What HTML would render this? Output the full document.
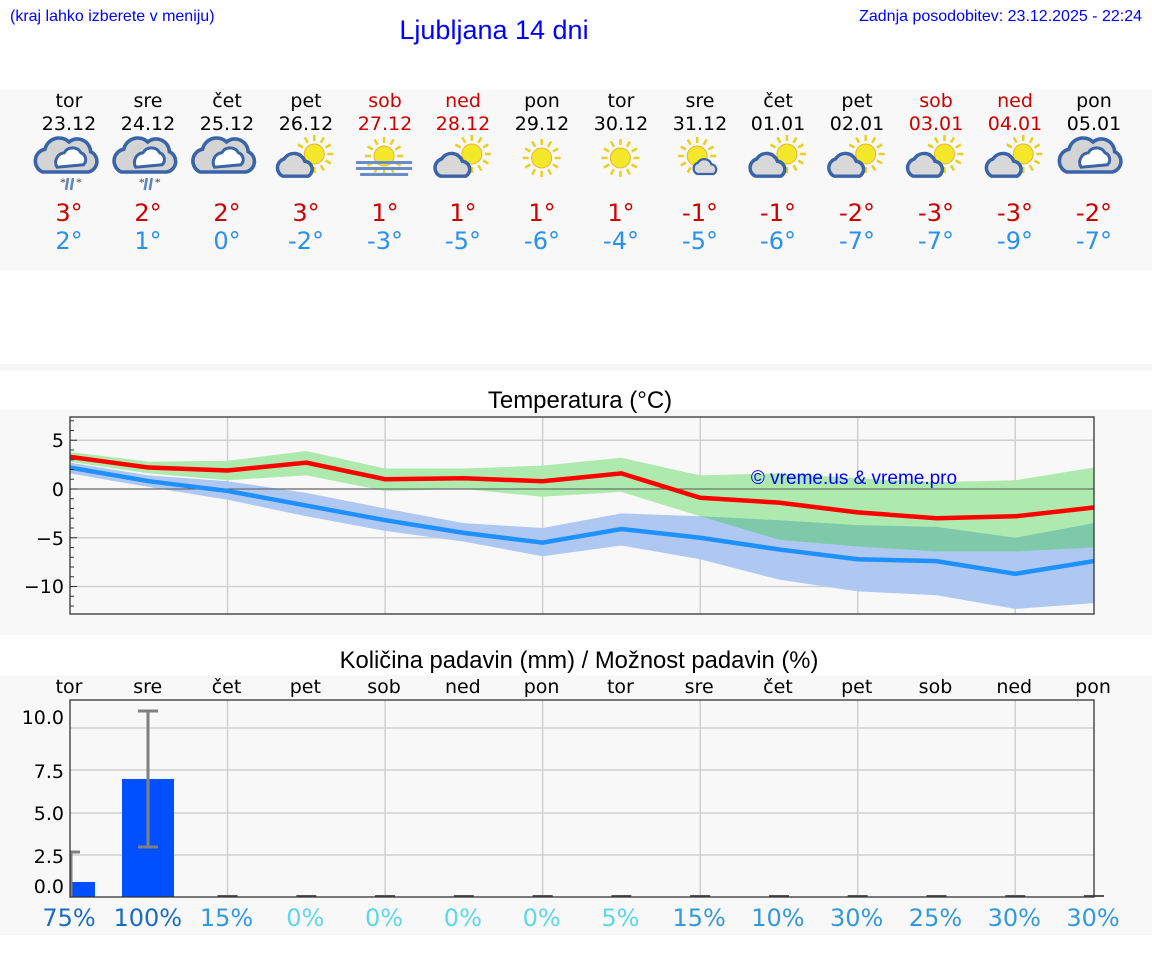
<!DOCTYPE html>
<html><head><meta charset="utf-8"><style>
html,body{margin:0;padding:0;background:#fff;width:1152px;height:975px;overflow:hidden}
svg{display:block}
.dj{font-family:"DejaVu Sans",sans-serif}
.lb{font-family:"Liberation Sans",sans-serif}
</style></head><body>
<svg id="s" width="1152" height="975" xmlns="http://www.w3.org/2000/svg">
<rect x="0" y="90" width="1152" height="180" fill="#f8f8f8"/>
<rect x="0" y="364" width="1152" height="6" fill="#f6f6f6"/>
<rect x="0" y="410" width="1152" height="225" fill="#f8f8f8"/>
<rect x="0" y="675" width="1152" height="260" fill="#f8f8f8"/>
<text class="lb" x="10" y="21" font-size="16" fill="#0000ff">(kraj lahko izberete v meniju)</text>
<text class="lb" x="494" y="39" font-size="27" fill="#0000ff" text-anchor="middle">Ljubljana 14 dni</text>
<text class="lb" x="1142" y="21" font-size="16" fill="#0000ff" text-anchor="end">Zadnja posodobitev: 23.12.2025 - 22:24</text>
<g class="dj" font-size="19" text-anchor="middle">
<text x="69" y="107">tor</text><text x="148" y="107">sre</text><text x="227" y="107">čet</text><text x="306" y="107">pet</text><text x="385" y="107" fill="#cc0000">sob</text><text x="463" y="107" fill="#cc0000">ned</text><text x="542" y="107">pon</text><text x="621" y="107">tor</text><text x="700" y="107">sre</text><text x="778" y="107">čet</text><text x="857" y="107">pet</text><text x="936" y="107" fill="#cc0000">sob</text><text x="1015" y="107" fill="#cc0000">ned</text><text x="1094" y="107">pon</text>
<text x="69" y="130">23.12</text><text x="148" y="130">24.12</text><text x="227" y="130">25.12</text><text x="306" y="130">26.12</text><text x="385" y="130" fill="#cc0000">27.12</text><text x="463" y="130" fill="#cc0000">28.12</text><text x="542" y="130">29.12</text><text x="621" y="130">30.12</text><text x="700" y="130">31.12</text><text x="778" y="130">01.01</text><text x="857" y="130">02.01</text><text x="936" y="130" fill="#cc0000">03.01</text><text x="1015" y="130" fill="#cc0000">04.01</text><text x="1094" y="130">05.01</text>
</g>
<g class="dj" font-size="24" text-anchor="middle" fill="#cc0000">
<text x="69" y="221">3°</text><text x="148" y="221">2°</text><text x="227" y="221">2°</text><text x="306" y="221">3°</text><text x="385" y="221">1°</text><text x="463" y="221">1°</text><text x="542" y="221">1°</text><text x="621" y="221">1°</text><text x="700" y="221">-1°</text><text x="778" y="221">-1°</text><text x="857" y="221">-2°</text><text x="936" y="221">-3°</text><text x="1015" y="221">-3°</text><text x="1094" y="221">-2°</text>
</g>
<g class="dj" font-size="24" text-anchor="middle" fill="#2a90f0">
<text x="69" y="249">2°</text><text x="148" y="249">1°</text><text x="227" y="249">0°</text><text x="306" y="249">-2°</text><text x="385" y="249">-3°</text><text x="463" y="249">-5°</text><text x="542" y="249">-6°</text><text x="621" y="249">-4°</text><text x="700" y="249">-5°</text><text x="778" y="249">-6°</text><text x="857" y="249">-7°</text><text x="936" y="249">-7°</text><text x="1015" y="249">-9°</text><text x="1094" y="249">-7°</text>
</g>
<g id="icons"></g>
<text class="lb" x="580" y="408" font-size="24" text-anchor="middle">Temperatura (°C)</text>
<g id="temp"></g>
<text class="lb" x="579" y="668" font-size="23.8" text-anchor="middle">Količina padavin (mm) / Možnost padavin (%)</text>
<g id="prec"></g>
</svg>
<script>
function X(i){return 70+78.77*i}
var h='';
function cloud(cx,cy,s,fill){return '<g transform="translate('+cx+','+cy+') scale('+s+')"><path d="M-22,10 a10,10 0 0 1 2,-19 a12,12 0 0 1 20,-6 a11,11 0 0 1 18,8 a9,9 0 0 1 -2,17 z" fill="'+fill+'" stroke="#3a64a8" stroke-width="3"/><path d="M-10,6 a8,8 0 0 1 6,-12 a8,8 0 0 1 14,0 a6,6 0 0 1 2,10 z" fill="#fff" stroke="#3a64a8" stroke-width="2.5"/></g>'}
function sun(cx,cy,r){var s='<g stroke="#e8d020" stroke-width="2.5">';for(var a=0;a<360;a+=30){var t=a*Math.PI/180;s+='<line x1="'+(cx+Math.cos(t)*(r+3))+'" y1="'+(cy+Math.sin(t)*(r+3))+'" x2="'+(cx+Math.cos(t)*(r+9))+'" y2="'+(cy+Math.sin(t)*(r+9))+'"/>'}return s+'</g><circle cx="'+cx+'" cy="'+cy+'" r="'+r+'" fill="#f3e82a" stroke="#f0b030" stroke-width="1"/>'}
function scloud(cx,cy,s){return '<g transform="translate('+cx+','+cy+') scale('+s+')"><path d="M-16,8 a8,8 0 0 1 1,-15 a10,10 0 0 1 18,2 a7,7 0 0 1 3,13 z" fill="#d8d8d8" stroke="#3a64a8" stroke-width="3"/></g>'}
var types=[0,0,1,2,3,2,4,4,5,2,2,2,2,1];
for(var i=0;i<14;i++){var c=X(i)-1,y=160;var t=types[i];
 if(t==0){h+=cloud(c,y,1.2,'#d4d4d4')+'<g stroke="#5a86c0" stroke-width="2.5"><line x1="'+(c-1)+'" y1="'+(y+18)+'" x2="'+(c-3)+'" y2="'+(y+30)+'"/><line x1="'+(c+4)+'" y1="'+(y+18)+'" x2="'+(c+2)+'" y2="'+(y+30)+'"/></g><text x="'+(c-9)+'" y="'+(y+26)+'" font-size="12" fill="#444">*</text><text x="'+(c+7)+'" y="'+(y+26)+'" font-size="12" fill="#444">*</text>'}
 else if(t==1){h+=cloud(c,y,1.2,'#d4d4d4')}
 else if(t==2){h+=sun(c+9,y-6,10)+scloud(c-4,y+7,1.15)}
 else if(t==3){h+=sun(c,y-4,10)+'<g fill="#6a8cc8"><rect x="'+(c-28)+'" y="'+(y+1)+'" width="56" height="3"/><rect x="'+(c-28)+'" y="'+(y+7)+'" width="56" height="3"/><rect x="'+(c-24)+'" y="'+(y+13)+'" width="48" height="3"/></g>'}
 else if(t==4){h+=sun(c,y-2,10)}
 else if(t==5){h+=sun(c-2,y-4,10)+scloud(c+10,y+8,0.75)}
}
document.getElementById('icons').innerHTML=h;
function Y(v){return 489-9.75*v}
var red=[3.3,2.2,1.9,2.7,1.0,1.1,0.8,1.6,-0.9,-1.4,-2.4,-3.0,-2.8,-1.9];
var blu=[2.2,0.8,-0.2,-1.7,-3.2,-4.5,-5.5,-4.1,-5.0,-6.2,-7.2,-7.4,-8.7,-7.4];
var gt=[3.8,2.8,2.9,3.9,2.1,2.1,2.4,3.2,1.4,1.6,1.1,0.7,0.9,2.2];
var gb=[2.8,1.6,0.9,1.4,-0.2,0,-0.8,-0.3,-2.8,-5.2,-5.9,-6.4,-6.4,-6.0];
var bt=[2.7,1.4,0.8,-0.4,-2.0,-3.5,-4.0,-2.5,-2.8,-3.2,-3.7,-3.9,-5.0,-3.5];
var bb=[1.6,0.2,-1.1,-2.8,-4.3,-5.4,-6.9,-5.8,-7.2,-9.3,-10.5,-10.9,-12.3,-11.7];
function poly(a,b){var p=[];for(var i=0;i<14;i++)p.push(X(i)+','+Y(a[i]));for(var i=13;i>=0;i--)p.push(X(i)+','+Y(b[i]));return p.join(' ')}
function line(a){var p=[];for(var i=0;i<14;i++)p.push(X(i)+','+Y(a[i]));return p.join(' ')}
var t='<defs><clipPath id="pc"><rect x="70" y="417" width="1024" height="197"/></clipPath><clipPath id="gc"><polygon points="'+poly(gt,gb)+'"/></clipPath></defs>';
t+='<rect x="70" y="417" width="1024" height="197" fill="#f8f8f8"/>';
[5,0,-5,-10].forEach(function(v){t+='<line x1="70" x2="1094" y1="'+Y(v)+'" y2="'+Y(v)+'" stroke="#d0d0d0" stroke-width="1.5"/>'});
for(var i=2;i<14;i+=2)t+='<line x1="'+X(i)+'" x2="'+X(i)+'" y1="417" y2="614" stroke="#d0d0d0" stroke-width="1.5"/>';
t+='<g clip-path="url(#pc)"><polygon points="'+poly(gt,gb)+'" fill="#aeeaae"/><polygon points="'+poly(bt,bb)+'" fill="#afc8f2"/><polygon points="'+poly(bt,bb)+'" fill="#7ec9aa" clip-path="url(#gc)"/>';
t+='<line x1="70" x2="1094" y1="489" y2="489" stroke="#555" stroke-width="1"/>';
t+='<polyline points="'+line(red)+'" fill="none" stroke="#ff0000" stroke-width="4.5"/><polyline points="'+line(blu)+'" fill="none" stroke="#1e90ff" stroke-width="4.5"/></g>';
t+='<rect x="70" y="417" width="1024" height="197" fill="none" stroke="#333" stroke-width="1.3"/>';
for(var v=-12;v<=7;v++){var L=(v%5==0)?7:4;t+='<line x1="70" x2="'+(70+L)+'" y1="'+Y(v)+'" y2="'+Y(v)+'" stroke="#333" stroke-width="1"/>'}
t+='<g class="dj" font-size="19" text-anchor="end"><text x="64" y="447">5</text><text x="64" y="496">0</text><text x="64" y="545">−5</text><text x="64" y="593">−10</text></g>';
t+='<text class="lb" x="854" y="484" font-size="19" fill="#0000ff" text-anchor="middle">© vreme.us &amp; vreme.pro</text>';
document.getElementById('temp').innerHTML=t;
var p='<rect x="70" y="700" width="1024" height="197" fill="#f8f8f8"/>';
[728,770,813,855].forEach(function(y){p+='<line x1="70" x2="1094" y1="'+y+'" y2="'+y+'" stroke="#d0d0d0" stroke-width="1.5"/>'});
for(var i=2;i<14;i+=2)p+='<line x1="'+X(i)+'" x2="'+X(i)+'" y1="700" y2="897" stroke="#d0d0d0" stroke-width="1.5"/>';
p+='<rect x="70" y="882" width="25" height="15" fill="#0050ff"/><rect x="122" y="779" width="52" height="118" fill="#0050ff"/>';
p+='<g stroke="#808080" stroke-width="3"><line x1="148" x2="148" y1="711" y2="847"/><line x1="138" x2="158" y1="711" y2="711"/><line x1="138" x2="158" y1="847" y2="847"/><line x1="71" x2="71" y1="852" y2="897"/><line x1="70" x2="80" y1="852" y2="852"/></g>';
for(var i=2;i<14;i++)p+='<line x1="'+(X(i)-10)+'" x2="'+(X(i)+10)+'" y1="896" y2="896" stroke="#555" stroke-width="2"/>';
p+='<rect x="70" y="700" width="1024" height="197" fill="none" stroke="#333" stroke-width="1.3"/>';
p+='<g class="dj" font-size="19" text-anchor="end"><text x="64" y="724">10.0</text><text x="64" y="778">7.5</text><text x="64" y="820">5.0</text><text x="64" y="863">2.5</text><text x="64" y="893">0.0</text></g>';
var dn=['tor','sre','čet','pet','sob','ned','pon','tor','sre','čet','pet','sob','ned','pon'];
var pc=['75%','100%','15%','0%','0%','0%','0%','5%','15%','10%','30%','25%','30%','30%'];
p+='<g class="dj" text-anchor="middle">';
for(var i=0;i<14;i++){p+='<text x="'+(X(i)-1)+'" y="693" font-size="19">'+dn[i]+'</text>';
 var v=parseInt(pc[i]);var col=v>=50?'#1a6cc4':(v>=10?'#3399dd':'#5cd8e8');
 p+='<text x="'+(X(i)-1)+'" y="926" font-size="24" fill="'+col+'">'+pc[i]+'</text>'}
p+='</g>';
document.getElementById('prec').innerHTML=p;
</script>
</body></html>
